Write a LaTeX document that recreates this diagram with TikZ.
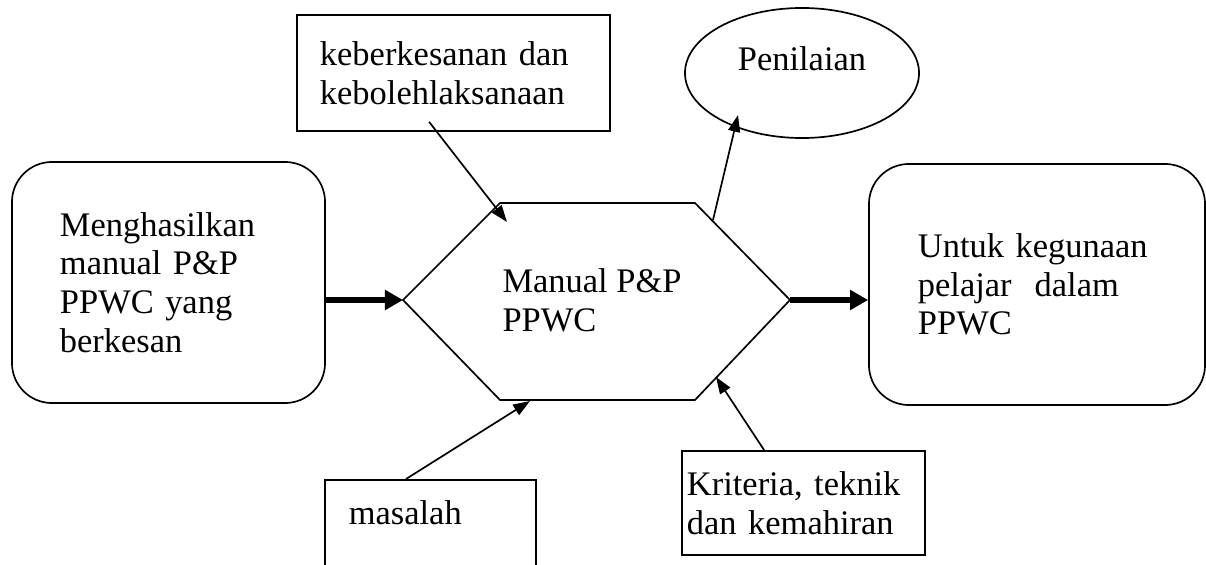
\documentclass[tikz,border=0pt]{standalone}
\usepackage{fontspec}
\setmainfont{Liberation Serif}
\usetikzlibrary{shapes,arrows.meta}

\begin{document}
\begin{tikzpicture} [x=0.025cm, y=-0.025cm, line width=1.2pt, roundbox/.style={rectangle, rounded corners=1cm, draw, align=left, minimum height=6.025cm}, block/.style={rectangle, draw, align=left}, terminal/.style={ellipse, draw}, thinarrow/.style={-{Triangle[length=0.42cm, width=0.3cm]}}, thickarrow/.style={line width=4.3pt, -{Triangle[length=0.45cm, width=0.48cm]}}]
{\fontsize{24.5}{27.5}\selectfont

	\useasboundingbox (0,0) rectangle (1206,565);
	\clip (0,0) rectangle (1206,565);

	\node [roundbox, minimum width=7.825cm, text width=5.425cm] (box_goal) at (168.5,282.5) {Menghasilkan\\manual P\&P\\PPWC yang\\berkesan};
	\node [roundbox, minimum width=8.4cm, text width=5.95cm] (box_use) at (1037,284.5) {Untuk kegunaan\\pelajar\ \ dalam\\PPWC};
	\node [block, minimum width=7.825cm, minimum height=2.9cm, text width=6.675cm] (box_effect) at (453.5,73) {keberkesanan dan\\kebolehlaksanaan};
	\node [terminal, minimum width=5.85cm, minimum height=3.25cm] (eval_1) at (802,73) {\raisebox{0.36cm}[\height][\depth]{Penilaian}};
	\node [block, anchor=north west, inner xsep=0.6cm, inner ysep=0.51cm, text width=4.075cm, text depth=1.16cm] (box_problem) at (324,479) {masalah};
	\node [block, inner xsep=0.125cm, minimum height=2.6cm, text width=5.825cm] (box_skill) at (803.5,503) {Kriteria, teknik\\dan kemahiran};

	% hexagon
	\coordinate (hex_w) at (403,300);
	\coordinate (hex_nw) at (500,203);
	\coordinate (hex_ne) at (695,203);
	\coordinate (hex_e) at (790,300);
	\coordinate (hex_se) at (695,400);
	\coordinate (hex_sw) at (500,400);
	\draw (hex_w) -- (hex_nw) -- (hex_ne) -- (hex_e) -- (hex_se) -- (hex_sw) -- cycle;
	\node [align=left] (manual_1) at (592,300) {Manual P\&P\\PPWC};

	% arrow ends
	\coordinate (tip_nw) at (507,222);
	\coordinate (out_ne) at (713,220);
	\coordinate (tip_eval) at (738,115);
	\coordinate (tip_s) at (530,401);
	\coordinate (tip_se) at (716,377);

	% draw edges
	\draw [thickarrow] (box_goal.east |- hex_w) -- (hex_w);
	\draw [thickarrow] (hex_e) -- (box_use.west |- hex_e);
	\draw [thinarrow] ([xshift=-0.61cm, yshift=0.25cm]box_effect.south) -- (tip_nw);
	\draw [thinarrow] (out_ne) -- (tip_eval);
	\draw [thinarrow] ([xshift=2.05cm]box_problem.north west) -- (tip_s);
	\draw [thinarrow] ([xshift=2.075cm]box_skill.north west) -- (tip_se);
}
\end{tikzpicture}
\end{document}
